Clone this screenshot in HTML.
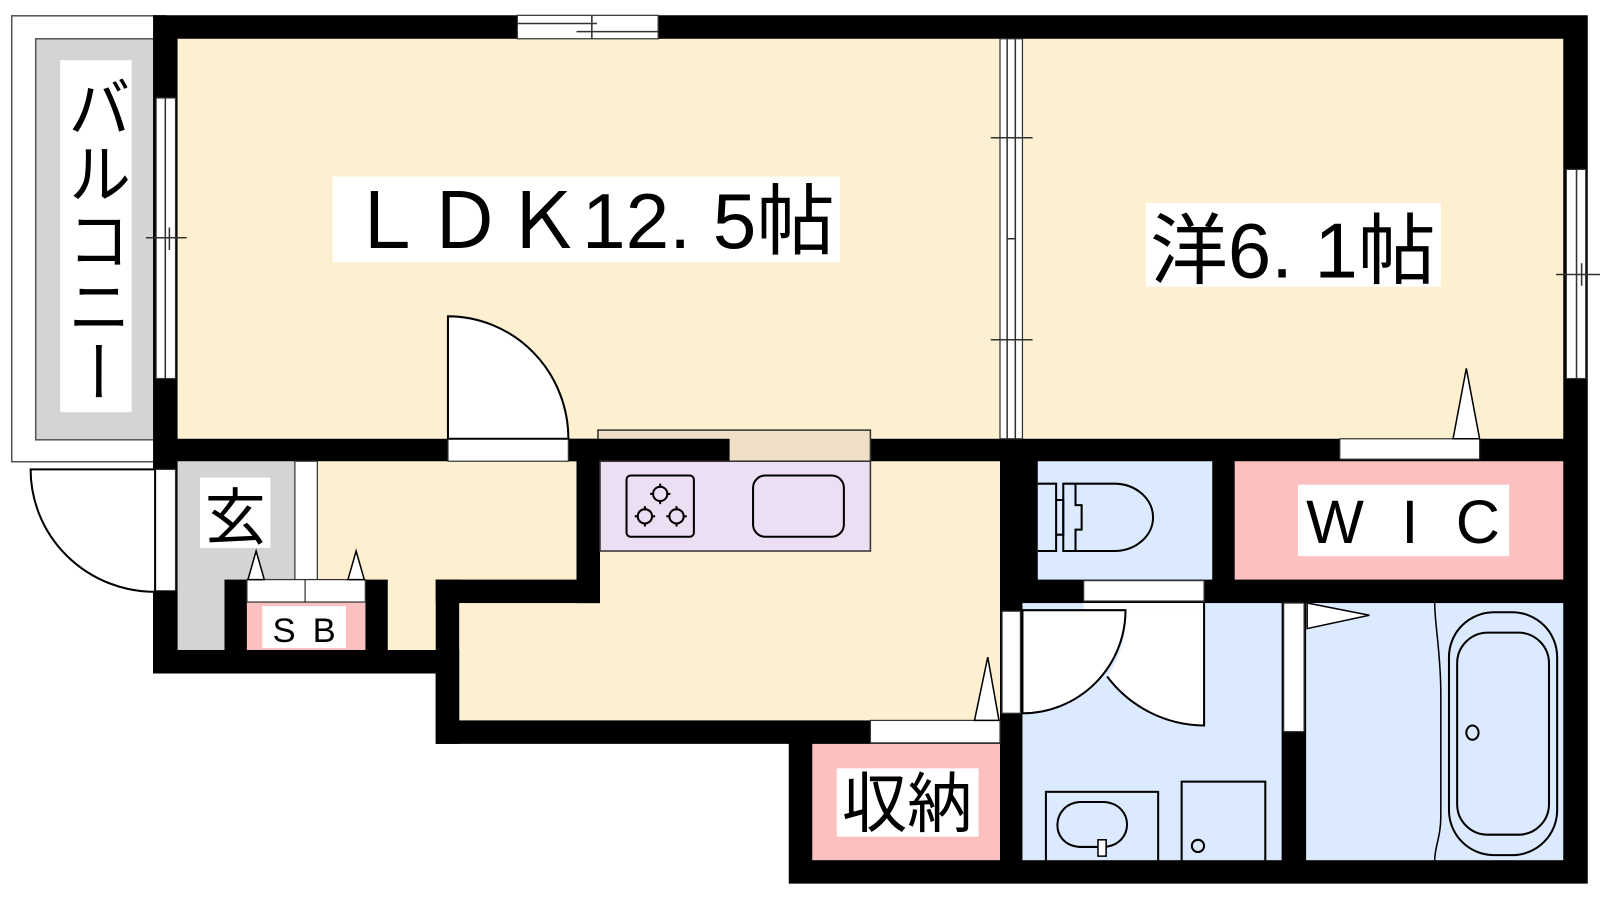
<!DOCTYPE html>
<html><head><meta charset="utf-8"><style>
html,body{margin:0;padding:0;background:#fff;}
svg{display:block;}
text{font-family:"Liberation Sans","Noto Sans CJK JP",sans-serif;fill:#000;}
</style></head><body>
<svg width="1600" height="900" viewBox="0 0 1568 882" xmlns="http://www.w3.org/2000/svg">
<rect width="1568" height="882" fill="#fff"/>
<rect x="11.5" y="15.5" width="151" height="437" fill="#fff" stroke="#555" stroke-width="1.5"/>
<rect x="35" y="38" width="117" height="393" fill="#d4d4d4" stroke="#555" stroke-width="1.5"/>
<rect x="59" y="59" width="70" height="345" fill="#fff"/>
<text x="92" y="72" font-size="62" style="writing-mode:vertical-rl;" textLength="325" lengthAdjust="spacingAndGlyphs">バルコニー</text>
<polygon points="150,15 1556,15 1556,866 773,866 773,729 427,729 427,660 150,660" fill="#000"/>
<rect x="174" y="38" width="806" height="392" fill="#fdf0d0"/>
<rect x="1002" y="38" width="530" height="392" fill="#fdf0d0"/>
<rect x="311" y="452" width="254" height="185" fill="#fdf0d0"/>
<rect x="588" y="452" width="392" height="116" fill="#fdf0d0"/>
<rect x="450" y="591" width="530" height="115" fill="#fdf0d0"/>
<rect x="588" y="540" width="392" height="60" fill="#fdf0d0"/>
<rect x="427" y="568" width="23" height="161" fill="#000"/>
<rect x="174" y="452" width="115" height="185" fill="#d4d4d4"/>
<rect x="289" y="452" width="22" height="116" fill="#fff" stroke="#333" stroke-width="1.2"/>
<rect x="196" y="468" width="69" height="69" fill="#fff"/>
<text x="230.5" y="528" font-size="60" text-anchor="middle">玄</text>
<rect x="220" y="568" width="22" height="69" fill="#000"/>
<rect x="358" y="568" width="22" height="69" fill="#000"/>
<rect x="242" y="590" width="116" height="47" fill="#fcc0c0"/>
<rect x="242" y="568" width="57" height="22" fill="#fff" stroke="#333" stroke-width="1.2"/>
<rect x="299" y="568" width="59" height="22" fill="#fff" stroke="#333" stroke-width="1.2"/>
<rect x="257" y="594" width="82" height="41" fill="#fff"/>
<text x="298" y="629" font-size="34" text-anchor="middle" textLength="62" lengthAdjust="spacing">S B</text>
<polygon points="243,568 251,540 259,568" fill="#fff" stroke="#000" stroke-width="1.5"/>
<polygon points="341,568 349,540 357,568" fill="#fff" stroke="#000" stroke-width="1.5"/>
<rect x="586" y="421.5" width="267" height="31" fill="#eedfc6" stroke="#333" stroke-width="1.5"/>
<rect x="557" y="430" width="158" height="22" fill="#000"/>
<rect x="565" y="452" width="23" height="139" fill="#000"/>
<rect x="588" y="452" width="265" height="88" fill="#ecdff4" stroke="#333" stroke-width="1.5"/>
<rect x="614" y="466" width="66" height="60" rx="4" fill="none" stroke="#000" stroke-width="2"/>
<g fill="none" stroke="#000" stroke-width="2">
<circle cx="647" cy="484" r="7"/><circle cx="632" cy="506" r="7"/><circle cx="663" cy="506" r="7"/>
<path d="M647 474v4M647 490v4M637 484h4M653 484h4M632 496v4M632 512v4M622 506h4M638 506h4M663 496v4M663 512v4M653 506h4M669 506h4"/>
</g>
<rect x="738" y="466" width="89" height="60" rx="12" fill="none" stroke="#000" stroke-width="2"/>
<rect x="427" y="568" width="161" height="23" fill="#000"/>
<rect x="439" y="430" width="118" height="22" fill="#fff" stroke="#333" stroke-width="1.2"/>
<path d="M439 430 V310 A118 120 0 0 1 557 430 Z" fill="#fff" stroke="#000" stroke-width="2"/>
<rect x="507" y="15" width="138" height="23" fill="#fff" stroke="#333" stroke-width="1.2"/>
<path d="M507 23H585M565 31H645M580 15V38" stroke="#333" stroke-width="1.5"/>
<rect x="153" y="96" width="19" height="275" fill="#fff" stroke="#333" stroke-width="1.2"/>
<path d="M162 96V371M143 233H183M166 223V245" stroke="#333" stroke-width="1.5"/>
<rect x="980" y="38" width="22" height="392" fill="#fff" stroke="#333" stroke-width="1.2"/>
<path d="M987 38V430M995 38V430M971 135H1012M987 234H995M971 333H1012" stroke="#333" stroke-width="1.5"/>
<rect x="1535" y="166" width="19" height="205" fill="#fff" stroke="#333" stroke-width="1.2"/>
<path d="M1545 166V371M1525 269H1568M1550 258V280" stroke="#333" stroke-width="1.5"/>
<rect x="326" y="173" width="497" height="84" fill="#fff"/>
<text x="340" y="243" font-size="76" textLength="478" lengthAdjust="spacingAndGlyphs">ＬＤＫ12. 5帖</text>
<rect x="1123" y="199" width="289" height="82" fill="#fff"/>
<text x="1127" y="272" font-size="76" textLength="280" lengthAdjust="spacingAndGlyphs">洋6. 1帖</text>
<rect x="1313" y="430" width="137" height="20" fill="#fff" stroke="#333" stroke-width="1.2"/>
<polygon points="1424,430 1437,361 1450,430" fill="#fff" stroke="#000" stroke-width="1.5"/>
<rect x="1017" y="452" width="171" height="116" fill="#dbeafe"/>
<g fill="none" stroke="#000" stroke-width="2">
<path d="M1017 474H1035V540H1017"/>
<path d="M1035 490H1042V524H1035"/>
<path d="M1042 474H1092A38 33 0 0 1 1130 507A38 33 0 0 1 1092 540H1042Z"/>
<path d="M1054 474V495H1060V519H1054V540"/>
</g>
<rect x="1210" y="452" width="322" height="116" fill="#fcc0c0"/>
<rect x="1272" y="475" width="207" height="70" fill="#fff"/>
<text x="1375" y="532" font-size="60" text-anchor="middle" textLength="190" lengthAdjust="spacing">W I C</text>
<rect x="1002" y="591" width="254" height="252" fill="#dbeafe"/>
<rect x="1062" y="569" width="118" height="20" fill="#fff" stroke="#333" stroke-width="1.2"/>
<rect x="982" y="599" width="18" height="100" fill="#fff" stroke="#333" stroke-width="1.2"/>
<path d="M1062 591H1180V598H1062Z" fill="#fff"/>
<path d="M1103 598H1180V711A120 120 0 0 1 1085 663A101 101 0 0 0 1103 598Z" fill="#fff"/>
<path d="M1180 591V711A120 120 0 0 1 1085 663" fill="none" stroke="#000" stroke-width="2"/>
<path d="M1002 598H1103A101 101 0 0 1 1002 699Z" fill="#fff" stroke="#000" stroke-width="2"/>
<rect x="1025" y="776" width="110" height="70" fill="none" stroke="#000" stroke-width="2"/>
<path d="M1058 830C1028 828 1030 788 1058 786H1082C1112 788 1112 828 1082 830Z" fill="none" stroke="#000" stroke-width="2"/>
<rect x="1076" y="823" width="8" height="16" fill="#fff" stroke="#000" stroke-width="1.5"/>
<rect x="1158" y="766" width="82" height="80" fill="none" stroke="#000" stroke-width="2"/>
<circle cx="1174" cy="829" r="6" fill="none" stroke="#000" stroke-width="2"/>
<rect x="1280" y="591" width="252" height="252" fill="#dbeafe"/>
<rect x="1258" y="591" width="20" height="126" fill="#fff" stroke="#333" stroke-width="1.2"/>
<polygon points="1281,591 1342,603 1281,616" fill="#fff" stroke="#000" stroke-width="1.5"/>
<path d="M1406 591C1406 612 1412 640 1412 680V800C1412 820 1406 830 1406 843" fill="none" stroke="#000" stroke-width="1.5"/>
<rect x="1420" y="600" width="106" height="238" rx="44" fill="none" stroke="#000" stroke-width="2"/>
<rect x="1428" y="620" width="90" height="198" rx="30" fill="none" stroke="#000" stroke-width="2"/>
<ellipse cx="1443" cy="718" rx="6" ry="7" fill="none" stroke="#000" stroke-width="2"/>
<rect x="796" y="729" width="184" height="114" fill="#fcc0c0"/>
<rect x="853" y="706" width="127" height="22" fill="#fff" stroke="#333" stroke-width="1.2"/>
<polygon points="955,706 968,644 979,706" fill="#fff" stroke="#000" stroke-width="1.5"/>
<rect x="820" y="753" width="139" height="67" fill="#fff"/>
<text x="889" y="810" font-size="64" text-anchor="middle">収納</text>
<rect x="152" y="460" width="20" height="119" fill="#fff" stroke="#333" stroke-width="1.2"/>
<path d="M30 460H152V580A122 120 0 0 1 30 460Z" fill="#fff" stroke="#000" stroke-width="2"/>
<rect x="150" y="579" width="24" height="81" fill="#000"/>
</svg>
</body></html>
